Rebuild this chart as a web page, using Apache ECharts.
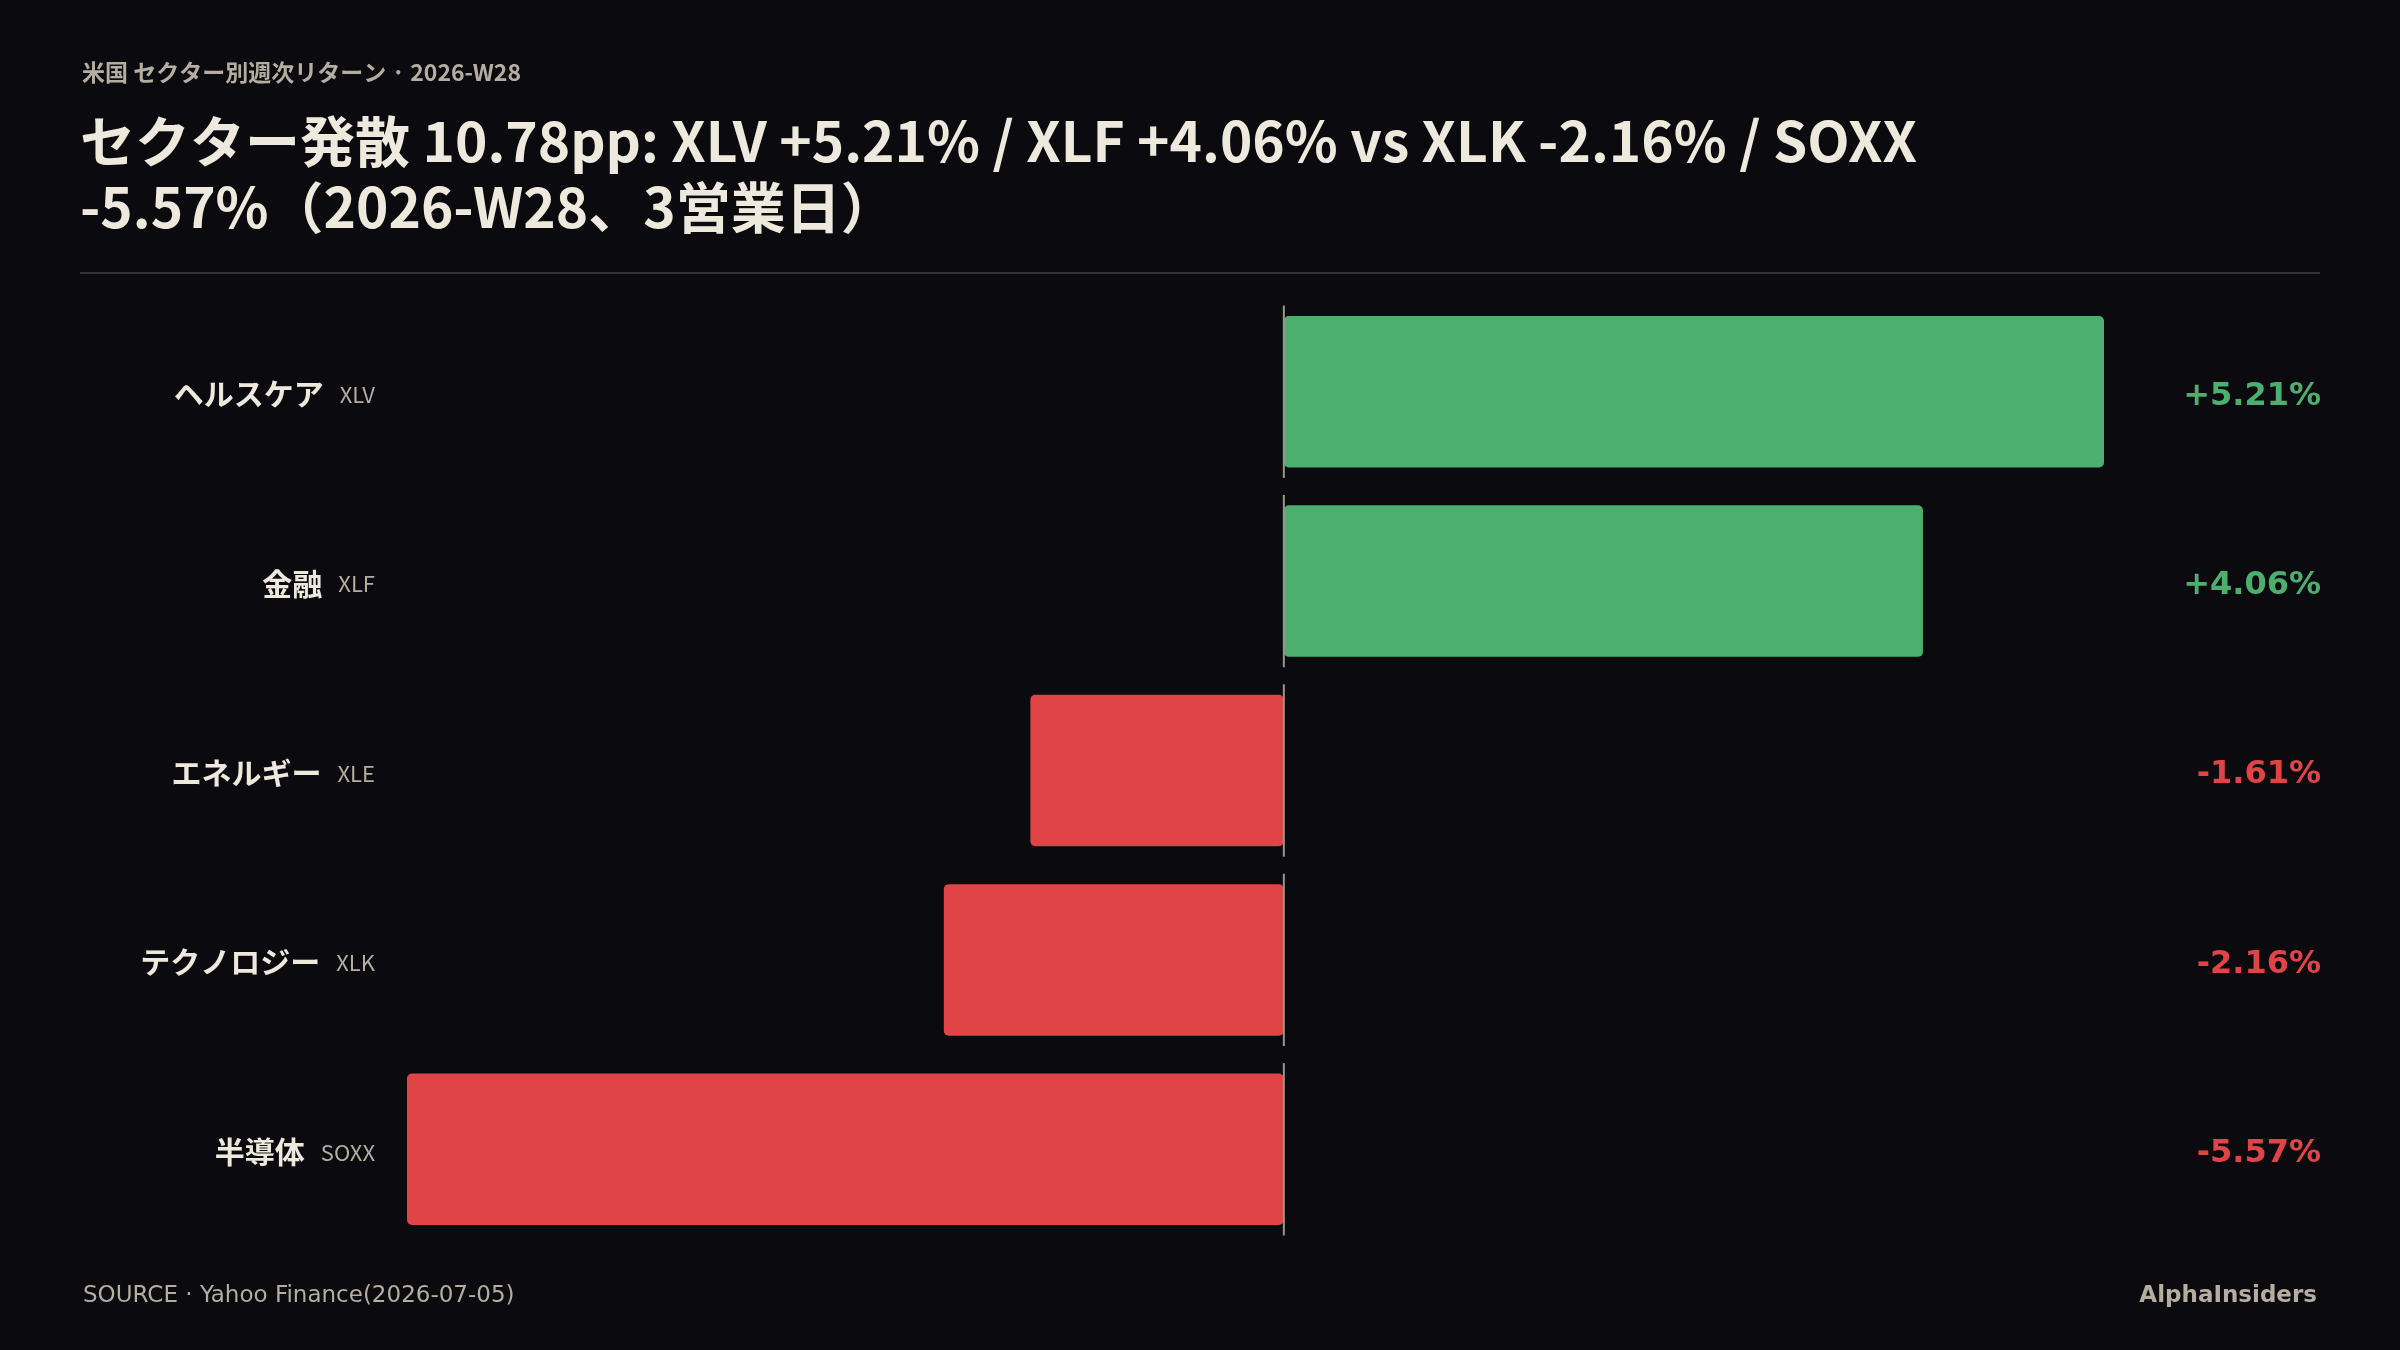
<!DOCTYPE html>
<html>
<head>
<meta charset="utf-8">
<script src="https://cdn.jsdelivr.net/npm/echarts@6/dist/echarts.min.js"></script>
<style>
  html, body { margin: 0; padding: 0; background: #0a0a0f; }
  #main { width: 2400px; height: 1350px; }
</style>
</head>
<body>
<div id="main"></div>
<script>
// データ
var sectors = ['ヘルスケア', '金融', 'エネルギー', 'テクノロジー', '半導体'];
var tickers = ['XLV', 'XLF', 'XLE', 'XLK', 'SOXX'];
var returns = [5.21, 4.06, -1.61, -2.16, -5.57];

var GREEN = '#4daf6f';
var RED = '#e04446';
var CREAM = '#ede9dc';
var MUTED = '#b3ae9f';

function fmt(v) {
  return (v > 0 ? '+' : '') + v.toFixed(2) + '%';
}

var chart = echarts.init(document.getElementById('main'), null, { renderer: 'canvas' });

var option = {
  backgroundColor: '#0a0a0f',
  animation: false,
  title: [
    {
      text: '米国 セクター別週次リターン · 2026-W28',
      left: 77,
      top: 56,
      textStyle: {
        color: MUTED,
        fontFamily: '"Noto Sans CJK JP"',
        fontSize: 23,
        fontWeight: 600
      }
    },
    {
      text: 'セクター発散 10.78pp: XLV +5.21% / XLF +4.06% vs XLK -2.16% / SOXX\n-5.57%（2026-W28、3営業日）',
      left: 75,
      top: 103,
      textStyle: {
        color: CREAM,
        fontFamily: '"Noto Sans CJK JP"',
        fontSize: 55,
        fontWeight: 700,
        lineHeight: 66
      }
    },
    {
      text: 'SOURCE · Yahoo Finance(2026-07-05)',
      left: 78,
      top: 1280,
      textStyle: {
        color: MUTED,
        fontFamily: '"DejaVu Sans"',
        fontSize: 23,
        fontWeight: 400
      }
    },
    {
      text: 'AlphaInsiders',
      right: 78,
      top: 1280,
      textStyle: {
        color: MUTED,
        fontFamily: '"DejaVu Sans"',
        fontSize: 23,
        fontWeight: 700
      }
    }
  ],
  graphic: [
    {
      type: 'line',
      shape: { x1: 80, y1: 273, x2: 2320, y2: 273 },
      style: { stroke: '#34342f', lineWidth: 2 }
    }
  ],
  grid: {
    left: 407,
    right: 296,
    top: 297,
    bottom: 106
  },
  xAxis: {
    type: 'value',
    min: Math.min.apply(null, returns),
    max: Math.max.apply(null, returns),
    show: false
  },
  yAxis: [
    {
      type: 'category',
      data: sectors,
      inverse: true,
      axisLine: { show: false },
      axisTick: { show: false },
      axisLabel: {
        margin: 32,
        padding: [0, 0, 6, 0],
        formatter: function (v, i) {
          return '{nm|' + v + '}{tk|' + tickers[i] + '}';
        },
        rich: {
          nm: {
            color: CREAM,
            fontFamily: '"Noto Sans CJK JP"',
            fontSize: 30,
            fontWeight: 700,
            lineHeight: 40,
            verticalAlign: 'bottom'
          },
          tk: {
            color: MUTED,
            fontFamily: '"Noto Sans CJK JP"',
            fontSize: 22,
            fontWeight: 400,
            padding: [0, 0, 3, 16],
            lineHeight: 40,
            verticalAlign: 'bottom'
          }
        }
      }
    },
    {
      type: 'category',
      data: sectors,
      inverse: true,
      position: 'right',
      axisLine: { show: false },
      axisTick: { show: false },
      axisLabel: {
        margin: 217,
        align: 'right',
        padding: [9, 0, 0, 0],
        formatter: function (v, i) {
          return (returns[i] >= 0 ? '{pos|' : '{neg|') + fmt(returns[i]) + '}';
        },
        rich: {
          pos: { color: GREEN, fontFamily: '"DejaVu Sans"', fontSize: 32, fontWeight: 700 },
          neg: { color: RED, fontFamily: '"DejaVu Sans"', fontSize: 32, fontWeight: 700 }
        }
      }
    }
  ],
  series: [
    {
      type: 'bar',
      data: returns.map(function (v) {
        return { value: v, itemStyle: { color: v >= 0 ? GREEN : RED } };
      }),
      barWidth: '80%',
      itemStyle: { borderRadius: 5 }
    },
    {
      // ゼロライン（カテゴリごとに区切り）
      type: 'custom',
      data: returns.map(function (v, i) { return [0, i]; }),
      encode: { x: 0, y: 1 },
      z: 3,
      renderItem: function (params, api) {
        var p = api.coord([0, api.value(1)]);
        var h = api.size([0, 1])[1];
        return {
          type: 'line',
          shape: { x1: p[0], y1: p[1] - h * 0.455, x2: p[0], y2: p[1] + h * 0.455 },
          style: { stroke: '#9a9689', lineWidth: 2 }
        };
      }
    }
  ]
};

chart.setOption(option);
</script>
</body>
</html>
